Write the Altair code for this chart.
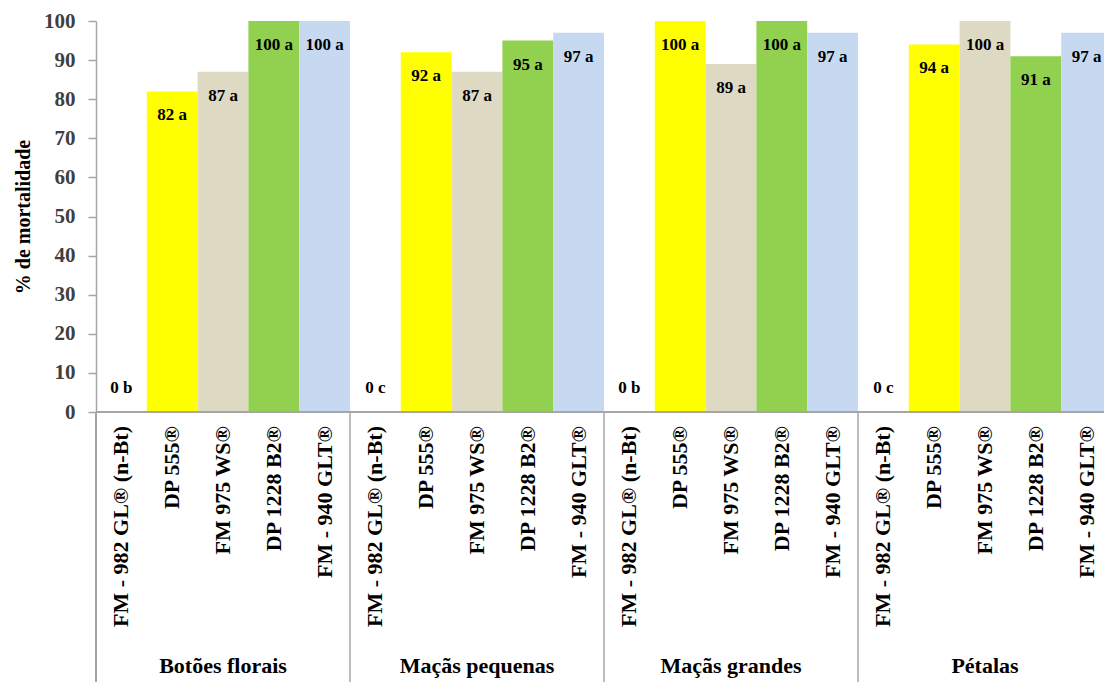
import altair as alt
import pandas as pd

groups = ["Botões florais", "Maçãs pequenas", "Maçãs grandes", "Pétalas"]
cultivars = ["FM - 982 GL® (n-Bt)", "DP 555®", "FM 975 WS®", "DP 1228 B2®", "FM - 940 GLT®"]
colors = ["#FFFFFF", "#FFFF00", "#DDD9C3", "#92D050", "#C6D9F1"]

botoes_florais = [0, 82, 87, 100, 100]
macas_pequenas = [0, 92, 87, 95, 97]
macas_grandes = [0, 100, 89, 100, 97]
petalas = [0, 94, 100, 91, 97]

letters_botoes = ["b", "a", "a", "a", "a"]
letters_mp = ["c", "a", "a", "a", "a"]
letters_mg = ["b", "a", "a", "a", "a"]
letters_pet = ["c", "a", "a", "a", "a"]

y_ticks = [0, 10, 20, 30, 40, 50, 60, 70, 80, 90, 100]

values = [botoes_florais, macas_pequenas, macas_grandes, petalas]
letters = [letters_botoes, letters_mp, letters_mg, letters_pet]

rows = []
for g, gname in enumerate(groups):
    for c, cname in enumerate(cultivars):
        i = g * 5 + c
        v = values[g][c]
        rows.append({
            "grupo": gname, "cultivar": cname, "x0": i, "x1": i + 1, "xm": i + 0.5,
            "valor": v, "rot": f"{v} {letters[g][c]}",
        })
df = pd.DataFrame(rows)
gdf = pd.DataFrame({"grupo": groups, "xc": [g * 5 + 2.5 for g in range(4)]})
sep = pd.DataFrame({"xs": [5, 10, 15]})

W = 1008
H = 391
FONT = "Liberation Serif, Times New Roman, serif"
GRAY = "#A6A6A6"

xs = alt.Scale(domain=[0, W / 50.8], nice=False, zero=False)
ys = alt.Scale(domain=[0, 100], nice=False)

y_axis = alt.Axis(
    values=y_ticks, tickCount=11, title="% de mortalidade", grid=False, labelOverlap=False,
    domainColor=GRAY, domainWidth=1.5, tickColor=GRAY, tickWidth=1.5, tickSize=8,
    labelPadding=13,
    labelFont=FONT, labelFontWeight="bold", labelFontSize=21, labelColor="#3F3F3F",
    titleFont=FONT, titleFontWeight="bold", titleFontSize=20, titleColor="#000000",
    titlePadding=10)

bars = alt.Chart(df).mark_bar(clip=True).encode(
    x=alt.X("x0:Q", scale=xs, axis=None),
    x2="x1:Q",
    y=alt.Y("valor:Q", scale=ys, axis=y_axis),
    y2=alt.datum(0),
    color=alt.Color("cultivar:N", scale=alt.Scale(domain=cultivars, range=colors), legend=None),
)

lab_nz = alt.Chart(df).transform_filter("datum.valor > 0").mark_text(
    font=FONT, fontWeight="bold", fontSize=17, baseline="middle", dy=24, color="#000000"
).encode(x=alt.X("xm:Q", scale=xs, axis=None), y=alt.Y("valor:Q", scale=ys, axis=y_axis), text="rot:N")

lab_z = alt.Chart(df).transform_filter("datum.valor == 0").mark_text(
    font=FONT, fontWeight="bold", fontSize=17, baseline="middle", dy=-24, color="#000000"
).encode(x=alt.X("xm:Q", scale=xs, axis=None), y=alt.Y("valor:Q", scale=ys, axis=y_axis), text="rot:N")

xlabels = alt.Chart(df).mark_text(
    font=FONT, fontWeight="bold", fontSize=22, angle=270, align="right", baseline="middle",
    color="#000000"
).encode(x=alt.X("xm:Q", scale=xs, axis=None), y=alt.value(H + 14), text="cultivar:N")

glabels = alt.Chart(gdf).mark_text(
    font=FONT, fontWeight="bold", fontSize=22, baseline="middle", color="#000000"
).encode(x=alt.X("xc:Q", scale=xs, axis=None), y=alt.value(H + 254), text="grupo:N")

base_line = alt.Chart(gdf).mark_rule(color=GRAY, strokeWidth=1.5).encode(
    x=alt.value(0), x2=alt.value(W), y=alt.value(H))
left_ext = alt.Chart(gdf).mark_rule(color=GRAY, strokeWidth=1.5).encode(
    x=alt.value(0), y=alt.value(H), y2=alt.value(H + 270))
seps = alt.Chart(sep).mark_rule(color=GRAY, strokeWidth=1.5).encode(
    x=alt.X("xs:Q", scale=xs, axis=None), y=alt.value(H), y2=alt.value(H + 270))

chart = alt.layer(bars, lab_nz, lab_z, xlabels, glabels, base_line, left_ext, seps).properties(
    width=W, height=H,
    autosize=alt.AutoSizeParams(type="none"),
    padding={"left": 88, "top": 13, "right": 0, "bottom": 270},
).configure_view(stroke=None)

chart.save("out.html", embed_options={"renderer": "svg", "actions": False})
